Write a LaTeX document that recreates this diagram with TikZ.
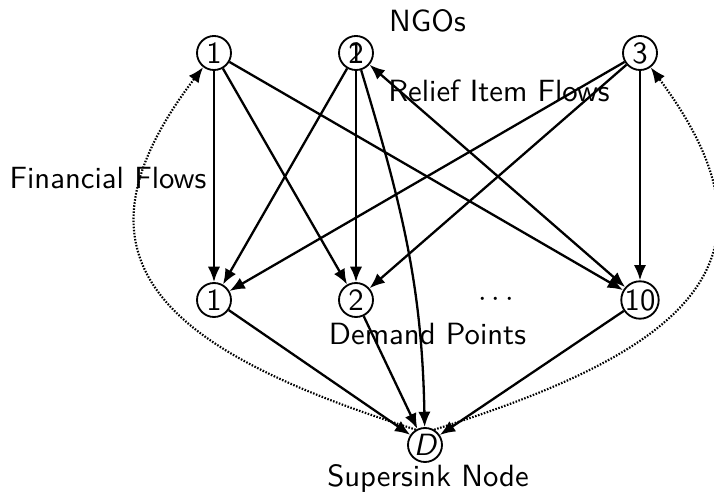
\documentclass[tikz,border=0pt]{standalone}
\usetikzlibrary{arrows.meta}
\begin{document}
\begin{tikzpicture}[x=0.3257pt,y=0.3257pt,font=\sffamily,
  vtx/.style={circle,draw,line width=0.6pt,inner sep=0pt,minimum size=11.07pt},
  tip/.tip={Latex[length=5pt,width=4pt]},
  flow/.style={line width=0.75pt,-tip},
  flowboth/.style={line width=0.75pt,tip-tip},
  fin/.style={line width=0.7pt,dash pattern=on 0.5pt off 0.5pt,-tip},
  lbl/.style={anchor=base,inner sep=0pt}]
\useasboundingbox (0,0) rectangle (714,-496);
% NGO nodes
\node[vtx] (t1) at (214,-53) {1};
\node[vtx] (t2) at (356,-53) {\makebox[0pt]{1}\makebox[0pt]{2}};
\node[vtx] (t3) at (640,-53) {3};
% demand points
\node[vtx] (b1) at (214,-300) {1};
\node[vtx] (b2) at (356,-300) {2};
\node (dots) at (496,-300) {$\cdots$};
\node[vtx] (b10) at (640,-300) {10};
% supersink
\node[vtx] (D) at (425,-445) {\itshape D};
% labels
\node[lbl] (ngo) at (427.5,-32) {NGOs};
\node[lbl] (rif) at (499,-102) {Relief Item Flows};
\node[lbl] (ff) at (108,-189) {Financial Flows};
\node[lbl] (dp) at (427.5,-345) {Demand Points};
\node[lbl] (ss) at (428,-487) {Supersink Node};
% relief item flows
\draw[flow] (t1) -- (b1);
\draw[flow] (t1) -- (b2);
\draw[flow] (t1) -- (b10);
\draw[flow] (t2) -- (b1);
\draw[flow] (t2) -- (b2);
\draw[flowboth] (t2) -- (b10);
\draw[flow] (t3) -- (b1);
\draw[flow] (t3) -- (b2);
\draw[flow] (t3) -- (b10);
\draw[flow] (t2) .. controls (402,-206) and (422,-285) .. (D);
% to supersink
\draw[flow] (b1) -- (D);
\draw[flow] (b2) -- (D);
\draw[flow] (b10) -- (D);
% financial flows
\draw[fin] (D.121) .. controls (173,-353) and (52,-265) .. (t1);
\draw[fin] (D.59) .. controls (679,-353) and (798,-265) .. (t3);
\end{tikzpicture}
\end{document}
